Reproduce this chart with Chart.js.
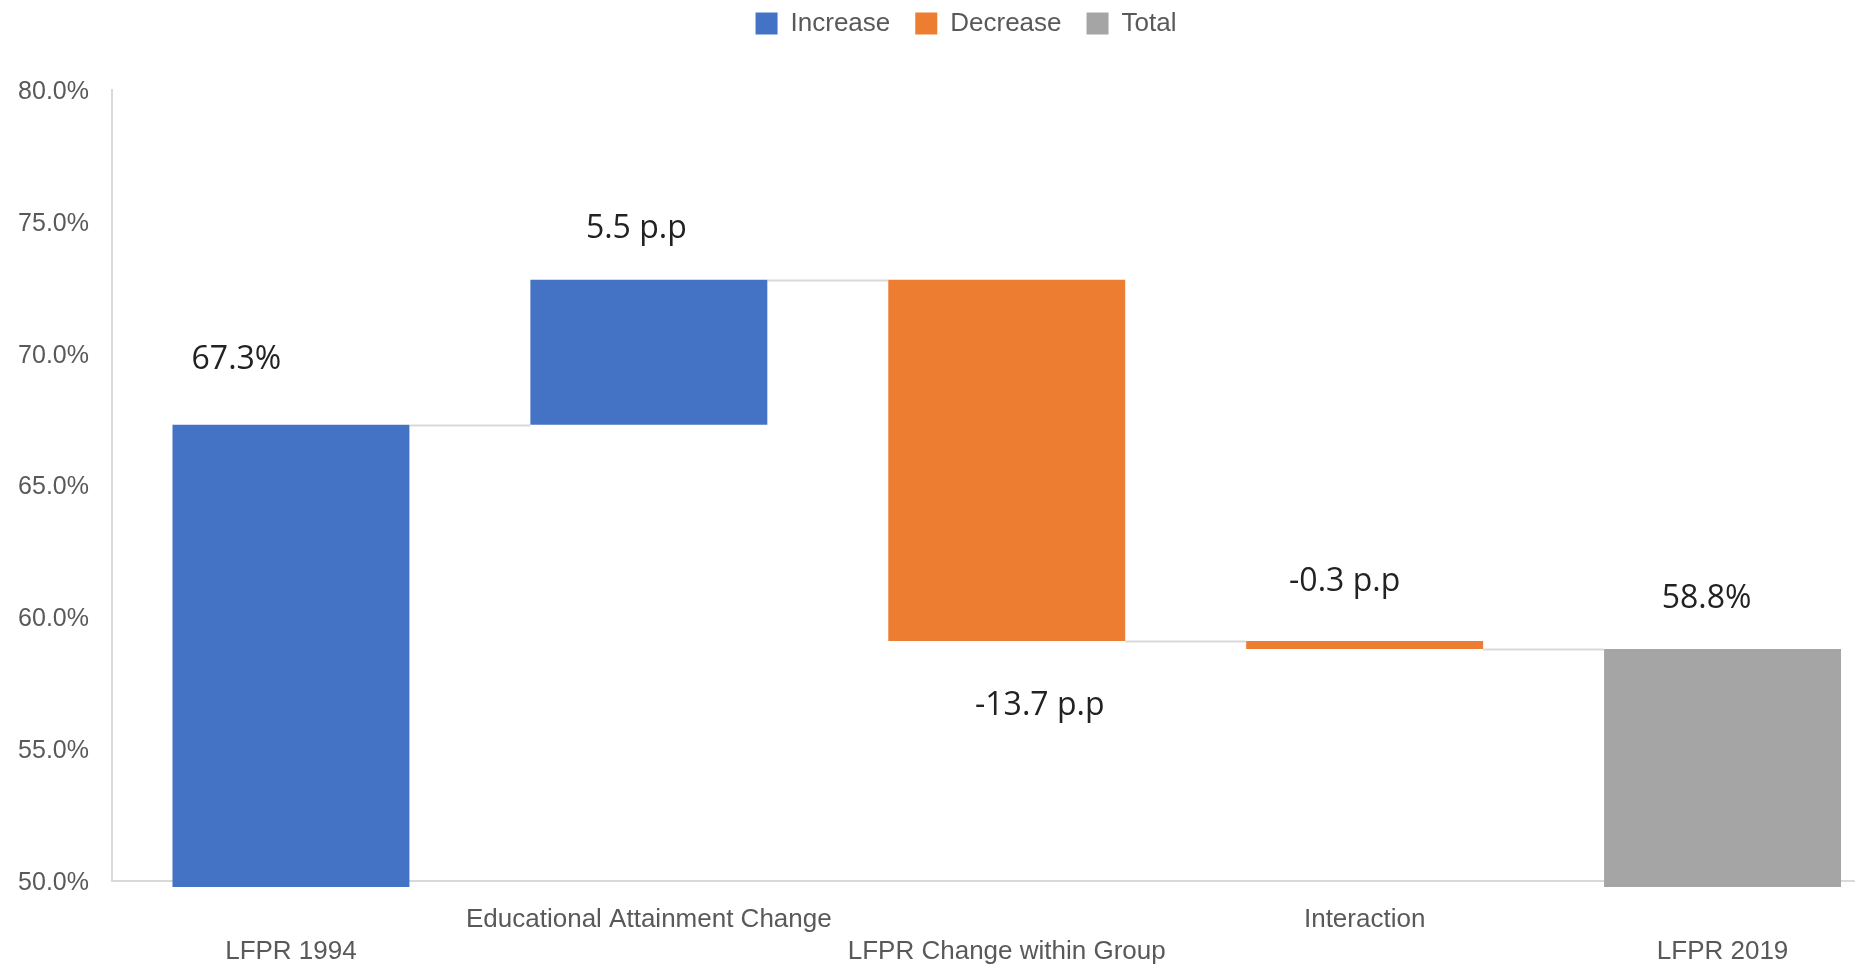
<!DOCTYPE html>
<html>
<head>
<meta charset="utf-8">
<script src="https://cdn.jsdelivr.net/npm/chart.js@4"></script>
<style>
  html, body { margin: 0; padding: 0; background: #ffffff; overflow: hidden; }
  #wrap { width: 1932px; height: 968px; }
  canvas { display: block; }
</style>
</head>
<body>
<div id="wrap"><canvas id="c" width="1932" height="968" style="width:1932px;height:968px"></canvas></div>
<script>
// ---- data ----
const categories = [
  ['', 'LFPR 1994'],
  ['Educational Attainment Change', ''],
  ['', 'LFPR Change within Group'],
  ['Interaction', ''],
  ['', 'LFPR 2019']
];
const stepValues = [67.3, 5.5, -13.7, -0.3, 58.8];
const stepKinds = ['increase', 'increase', 'decrease', 'decrease', 'total'];
const dataLabels = ['67.3%', '5.5 p.p', '-13.7 p.p', '-0.3 p.p', '58.8%'];
const seriesNames = ['Increase', 'Decrease', 'Total'];
const yTicks = { min: 50, max: 80, step: 5 };

// ---- styles ----
const colors = { increase: '#4472C4', decrease: '#ED7D31', total: '#A5A5A5' };
// label placement: [dx, dy, anchor] in px relative to bar centre / edge
const labelPlacement = [[-54.5, -56, 'top'], [-12.5, -42, 'top'], [33, 74, 'bottom'], [-20, -50, 'top'], [-16, -41, 'top']];

// build floating bars from the steps
const kindKeys = ['increase', 'decrease', 'total'];
const seriesData = { increase: [], decrease: [], total: [] };
const endLevels = [];
let running = 0;
stepValues.forEach((v, i) => {
  let range;
  if (stepKinds[i] === 'total') { range = [0, v]; running = v; }
  else { range = [running, running + v]; running = running + v; }
  endLevels.push(running);
  kindKeys.forEach(k => seriesData[k].push(k === stepKinds[i] ? range : null));
});

const connectorPlugin = {
  id: 'connectors',
  beforeDatasetsDraw(chart) {
    const ctx = chart.ctx, y = chart.scales.y;
    const els = stepKinds.map((k, i) => chart.getDatasetMeta(kindKeys.indexOf(k)).data[i]);
    ctx.save();
    ctx.strokeStyle = '#D9D9D9';
    ctx.lineWidth = 2;
    for (let i = 0; i < els.length - 1; i++) {
      const a = els[i], b = els[i + 1];
      const py = Math.round(y.getPixelForValue(endLevels[i])) + 0.5;
      ctx.beginPath();
      ctx.moveTo(a.x + a.width / 2, py);
      ctx.lineTo(b.x - b.width / 2, py);
      ctx.stroke();
    }
    ctx.restore();
  }
};

const labelPlugin = {
  id: 'stepLabels',
  afterDatasetsDraw(chart) {
    const ctx = chart.ctx;
    ctx.save();
    ctx.font = '32px "Open Sans"';
    ctx.fillStyle = '#222222';
    ctx.textAlign = 'center';
    ctx.textBaseline = 'alphabetic';
    stepKinds.forEach((k, i) => {
      const el = chart.getDatasetMeta(kindKeys.indexOf(k)).data[i];
      const [dx, dy, anchor] = labelPlacement[i];
      const top = Math.min(el.y, el.base), bottom = Math.max(el.y, el.base);
      const yy = (anchor === 'top' ? top : bottom) + dy;
      ctx.fillText(dataLabels[i], el.x + dx, yy);
    });
    ctx.restore();
  }
};

const legendFitPlugin = {
  id: 'legendFit',
  afterInit(chart) {
    const lg = chart.legend;
    const orig = lg.fit;
    lg.fit = function () { orig.call(this); this.height = 104.5; };
  }
};

new Chart(document.getElementById('c'), {
  type: 'bar',
  data: {
    labels: categories,
    datasets: kindKeys.map((k, j) => ({
      label: seriesNames[j],
      data: seriesData[k],
      backgroundColor: colors[k],
      borderWidth: 0,
      barPercentage: 0.662,
      categoryPercentage: 1,
      clip: { left: false, right: false, top: 0, bottom: 6 }
    }))
  },
  options: {
    responsive: false,
    animation: false,
    devicePixelRatio: 1,
    layout: { padding: { top: -14.5, left: 0, right: 0, bottom: 0 } },
    plugins: {
      tooltip: { enabled: false },
      legend: {
        position: 'top',
        align: 'center',
        labels: {
          boxWidth: 22,
          boxHeight: 22,
          padding: 25,
          color: '#595959',
          font: { family: '"Liberation Sans", Arial, sans-serif', size: 26 }
        }
      }
    },
    scales: {
      x: {
        stacked: true,
        grid: { display: false, drawTicks: false },
        border: { display: true, color: '#D9D9D9', width: 2 },
        ticks: {
          padding: 23,
          color: '#595959',
          maxRotation: 0,
          autoSkip: false,
          font: { family: '"Liberation Sans", Arial, sans-serif', size: 26, lineHeight: 1.2308 }
        },
        afterFit(s) { s.height = 87; }
      },
      y: {
        stacked: false,
        min: yTicks.min,
        max: yTicks.max,
        grid: { display: false, drawTicks: false },
        border: { display: true, color: '#D9D9D9', width: 2 },
        ticks: {
          stepSize: yTicks.step,
          padding: 23,
          labelOffset: 2,
          color: '#595959',
          font: { family: '"Liberation Sans", Arial, sans-serif', size: 25 },
          callback: v => v.toFixed(1) + '%'
        },
        afterFit(s) { s.width = 112; }
      },
      y2: {
        type: 'linear',
        position: 'right',
        display: true,
        grid: { display: false, drawTicks: false },
        border: { display: false },
        ticks: { display: false },
        afterFit(s) { s.width = 30.5; }
      }
    }
  },
  plugins: [connectorPlugin, labelPlugin, legendFitPlugin]
});
</script>
</body>
</html>
